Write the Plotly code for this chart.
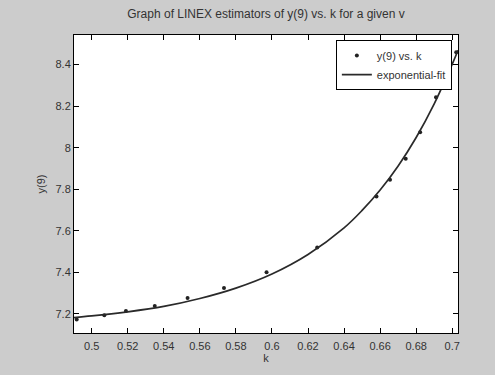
import plotly.graph_objects as go

# observed data points
k_pts = [0.4917, 0.507, 0.519, 0.535, 0.5532, 0.5734, 0.597, 0.6251,
         0.658, 0.6655, 0.6742, 0.6822, 0.691, 0.7022]
y_pts = [7.173, 7.194, 7.214, 7.238, 7.276, 7.325, 7.400, 7.520,
         7.765, 7.846, 7.947, 8.074, 8.243, 8.46]

# exponential-fit curve
k_fit = [0.49, 0.50, 0.52, 0.54, 0.56, 0.58, 0.60, 0.62, 0.64, 0.65,
         0.66, 0.67, 0.68, 0.69, 0.70, 0.7032]
y_fit = [7.182, 7.190, 7.210, 7.236, 7.274, 7.324, 7.392, 7.486, 7.614, 7.698,
         7.796, 7.912, 8.049, 8.211, 8.402, 8.469]

x_ticks = [0.5, 0.52, 0.54, 0.56, 0.58, 0.6, 0.62, 0.64, 0.66, 0.68, 0.7]
x_ticktext = ["0.5", "0.52", "0.54", "0.56", "0.58", "0.6", "0.62", "0.64", "0.66", "0.68", "0.7"]
y_ticks = [7.2, 7.4, 7.6, 7.8, 8.0, 8.2, 8.4]
y_ticktext = ["7.2", "7.4", "7.6", "7.8", "8", "8.2", "8.4"]

FONT = "Liberation Sans, Arial, sans-serif"
TXT = "#333333"

fig = go.Figure()
fig.add_trace(go.Scatter(
    x=k_pts, y=y_pts, mode="markers", name="y(9) vs. k",
    marker=dict(size=4, color="#222222"),
))
fig.add_trace(go.Scatter(
    x=k_fit, y=y_fit, mode="lines", name="exponential-fit",
    line=dict(color="#2a2a2a", width=1.7, shape="spline"),
))

axis_common = dict(
    showline=True, linecolor="#000000", linewidth=1, mirror="ticks",
    ticks="inside", ticklen=5, tickcolor="#000000", showgrid=False,
    zeroline=False, tickfont=dict(family=FONT, size=11, color=TXT),
)

fig.update_layout(
    width=495, height=375,
    paper_bgcolor="#cccccc", plot_bgcolor="#ffffff",
    margin=dict(l=74, r=37, t=35, b=38),
    title=dict(text="Graph of LINEX estimators of y(9) vs. k for a given v",
               x=(74 + 458) / 2 / 495, xanchor="center", y=1 - 14 / 375, yanchor="middle",
               font=dict(family=FONT, size=12, color=TXT)),
    xaxis=dict(range=[0.4902, 0.7032], tickvals=x_ticks, ticktext=x_ticktext,
               ticklabelstandoff=3,
               title=dict(text="k", font=dict(family=FONT, size=11, color=TXT), standoff=3),
               **axis_common),
    yaxis=dict(range=[7.108, 8.5425], tickvals=y_ticks, ticktext=y_ticktext,
               title=dict(text="y(9)", font=dict(family=FONT, size=11, color=TXT), standoff=7),
               **axis_common),
    legend=dict(x=0.984, xanchor="right", y=0.983, yanchor="top",
                bgcolor="#ffffff", bordercolor="#000000", borderwidth=1,
                font=dict(family=FONT, size=11, color=TXT),
                tracegroupgap=0, itemwidth=30),
    showlegend=True,
)

fig.write_html("out.html")
